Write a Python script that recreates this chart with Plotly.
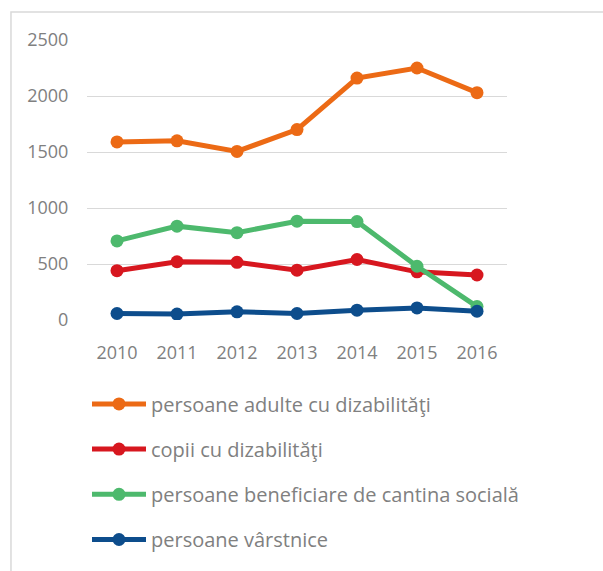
import plotly.graph_objects as go

years = ["2010", "2011", "2012", "2013", "2014", "2015", "2016"]
adulti = [1590, 1600, 1505, 1700, 2160, 2250, 2030]
copii = [440, 520, 515, 445, 540, 430, 402]
cantina = [706, 838, 780, 882, 879, 480, 120]
varstnice = [58, 53, 73, 58, 88, 108, 78]

series = [
    ("persoane adulte cu dizabilităţi", adulti, "#EC6A15"),
    ("copii cu dizabilităţi", copii, "#D7171F"),
    ("persoane beneficiare de cantina socială", cantina, "#4DB96D"),
    ("persoane vârstnice", varstnice, "#0D4D8C"),
]

FONT = "Open Sans"
GRAY = "#808080"

fig = go.Figure()
for i, (name, vals, col) in enumerate(series):
    fig.add_trace(go.Scatter(
        x=years, y=vals, name=name, mode="lines+markers",
        line=dict(color=col, width=5),
        marker=dict(color=col, size=13),
        legendgroup=f"g{i}",
    ))

fig.update_layout(
    width=603, height=571,
    margin=dict(l=87, r=96, t=40, b=237),
    paper_bgcolor="white", plot_bgcolor="white",
    font=dict(family=FONT, color=GRAY, size=17),
    showlegend=True,
    legend=dict(
        x=0.0, xanchor="left", y=-0.230, yanchor="top",
        orientation="v", itemwidth=54, tracegroupgap=16.2,
        font=dict(family=FONT, size=20, color=GRAY),
        bgcolor="rgba(0,0,0,0)",
    ),
    xaxis=dict(
        type="category", range=[-0.5, 6.5], showgrid=False, zeroline=False,
        showline=False, ticks="outside", ticklen=16, tickcolor="rgba(0,0,0,0)",
        tickfont=dict(family=FONT, size=18, color=GRAY),
    ),
    yaxis=dict(
        range=[0, 2500], tickvals=[0, 500, 1000, 1500, 2000, 2500],
        showgrid=True, gridcolor="#D9D9D9", gridwidth=1.3, zeroline=False,
        showline=False, ticks="outside", ticklen=14, tickcolor="rgba(0,0,0,0)",
        tickfont=dict(family=FONT, size=18, color=GRAY),
    ),
    shapes=[dict(
        type="rect", xref="paper", yref="paper",
        x0=-0.181, x1=3.0, y0=-2.0, y1=1.100,
        line=dict(color="#D9D9D9", width=1.5), fillcolor="rgba(0,0,0,0)",
        layer="below",
    )],
)

fig.write_html(
    "out.html", config={"displayModeBar": False},
    post_script=("document.body.style.margin='0';"
                 "document.body.style.overflow='hidden';"
                 "document.documentElement.style.overflow='hidden';"),
)
